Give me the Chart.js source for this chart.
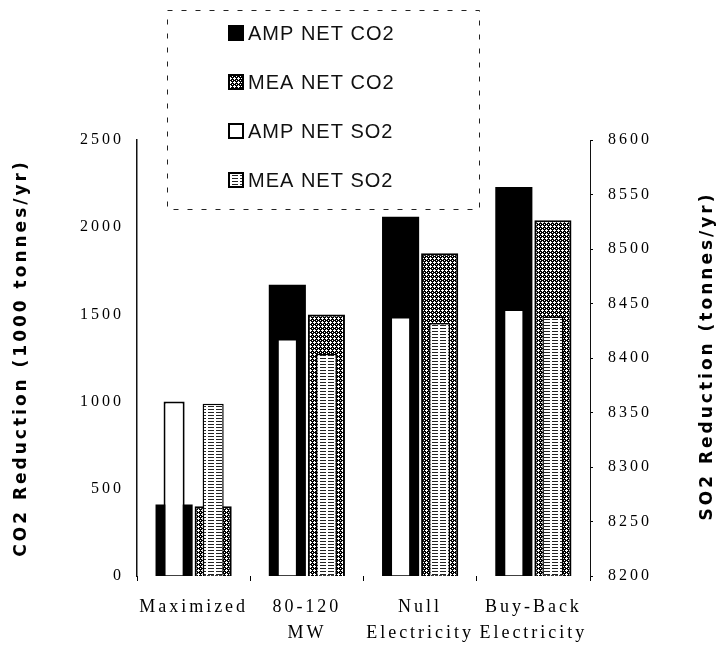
<!DOCTYPE html>
<html>
<head>
<meta charset="utf-8">
<script src="https://cdn.jsdelivr.net/npm/chart.js@4.4.1/dist/chart.umd.min.js"></script>
<style>
  html, body { margin: 0; padding: 0; background: #fff; }
  #wrap { width: 722px; height: 648px; position: relative; }
</style>
</head>
<body>
<div id="wrap"><canvas id="c" width="722" height="648"></canvas></div>
<script>
// Scenario categories (multi-line tick labels)
const categories = ['Maximized', ['80-120', 'MW'], ['Null', 'Electricity'], ['Buy-Back', 'Electricity']];

// CO2 reduction, 1000 tonnes/yr (left axis)
const ampNetCO2 = [410, 1670, 2060, 2230];
const meaNetCO2 = [400, 1500, 1850, 2040];

// SO2 reduction, tonnes/yr (right axis)
const ampNetSO2 = [8360, 8418, 8438, 8445];
const meaNetSO2 = [8358, 8404, 8432, 8438];

// Axis ranges: [min, max, step]
const co2Axis = [0, 2500, 500];
const so2Axis = [8200, 8600, 50];

const seriesNames = ['AMP NET CO2', 'MEA NET CO2', 'AMP NET SO2', 'MEA NET SO2'];
const leftTitle = 'CO2 Reduction (1000 tonnes/yr)';
const rightTitle = 'SO2 Reduction (tonnes/yr)';

const canvas = document.getElementById('c');
const mainCtx = canvas.getContext('2d');

function makePattern(w, h, paint) {
  const t = document.createElement('canvas');
  t.width = w; t.height = h;
  const g = t.getContext('2d');
  g.fillStyle = '#fff';
  g.fillRect(0, 0, w, h);
  paint(g);
  return mainCtx.createPattern(t, 'repeat');
}

// dark checker with small white diamonds for the MEA CO2 bars
const checker = makePattern(4, 4, g => {
  g.fillStyle = '#000';
  g.fillRect(0, 0, 4, 4);
  g.fillStyle = '#fff';
  g.fillRect(2, 1, 1, 1);
  g.fillRect(1, 2, 3, 1);
  g.fillRect(2, 3, 1, 1);
  g.fillRect(0, 0, 1, 1);
});
// horizontal dashes for the MEA SO2 bars
const ruled = makePattern(8, 3, g => {
  g.fillStyle = '#222';
  g.fillRect(0, 1, 6, 1);
});

const plainNumber = v => String(v);

const textSpacing = {
  id: 'textSpacing',
  beforeLayout(chart) { chart.ctx.letterSpacing = '3px'; },
  beforeDraw(chart) { chart.ctx.letterSpacing = '3px'; }
};

const legendAndTitle = {
  id: 'legendAndTitle',
  afterDraw(chart) {
    const ctx = chart.ctx;
    ctx.save();
    // legend panel
    const bx = 167, by = 10, bw = 312, bh = 199;
    ctx.fillStyle = '#fff';
    ctx.fillRect(bx, by, bw, bh);
    ctx.setLineDash([5, 9]);
    ctx.strokeStyle = '#222';
    ctx.lineWidth = 1;
    ctx.strokeRect(bx + 0.5, by + 0.5, bw, bh);
    ctx.setLineDash([]);
    ctx.letterSpacing = '1px';
    ctx.font = '20px "Liberation Sans", Arial, sans-serif';
    ctx.textBaseline = 'middle';
    ctx.textAlign = 'left';
    chart.data.datasets.forEach((ds, i) => {
      const cy = 33 + i * 49;
      const sx = 228, sy = cy - 8, s = 16;
      ctx.fillStyle = ds.backgroundColor;
      ctx.fillRect(sx, sy, s, s);
      if (ds.borderWidth) {
        ctx.strokeStyle = '#000';
        ctx.lineWidth = 2;
        ctx.strokeRect(sx + 1, sy + 1, s - 2, s - 2);
      }
      ctx.fillStyle = '#111';
      ctx.fillText(ds.label, 248, cy + 1);
    });
    // right axis title, reading bottom to top
    ctx.letterSpacing = '3px';
    ctx.font = 'bold 17px "DejaVu Sans", sans-serif';
    ctx.textAlign = 'center';
    ctx.translate(708, 356);
    ctx.rotate(-Math.PI / 2);
    ctx.fillStyle = '#000';
    ctx.fillText(rightTitle, 0, 0);
    ctx.restore();
  }
};

new Chart(canvas, {
  type: 'bar',
  data: {
    labels: categories,
    datasets: [
      { label: seriesNames[0], data: ampNetCO2, yAxisID: 'y', stack: 'amp', order: 2,
        backgroundColor: '#000', borderColor: '#000', borderWidth: 0, barPercentage: 0.95 },
      { label: seriesNames[1], data: meaNetCO2, yAxisID: 'y', stack: 'mea', order: 2,
        backgroundColor: checker, borderColor: '#000', borderWidth: 2, barPercentage: 0.95 },
      { label: seriesNames[2], data: ampNetSO2, yAxisID: 'y2', stack: 'amp', order: 1, base: so2Axis[0],
        backgroundColor: '#fff', borderColor: '#000', borderWidth: 2, barPercentage: 0.54 },
      { label: seriesNames[3], data: meaNetSO2, yAxisID: 'y2', stack: 'mea', order: 1, base: so2Axis[0],
        backgroundColor: ruled, borderColor: '#000', borderWidth: 1.5, barPercentage: 0.54 }
    ]
  },
  options: {
    responsive: false,
    animation: false,
    devicePixelRatio: 1,
    layout: { padding: { top: 140, left: 0, right: 0, bottom: 0 } },
    datasets: { bar: { categoryPercentage: 0.69 } },
    plugins: { legend: { display: false }, tooltip: { enabled: false } },
    scales: {
      x: {
        grid: { display: true, drawOnChartArea: false, drawTicks: true, tickLength: 5, color: '#000', offset: true },
        border: { display: false },
        ticks: {
          color: '#000', padding: 13, maxRotation: 0, autoSkip: false,
          font: { family: '"Liberation Serif", "Times New Roman", serif', size: 18, lineHeight: 1.45 }
        },
        afterFit(s) { s.height = 72; }
      },
      y: {
        position: 'left',
        min: co2Axis[0], max: co2Axis[1],
        ticks: {
          stepSize: co2Axis[2], color: '#000', padding: 13, callback: plainNumber,
          font: { family: '"Liberation Serif", "Times New Roman", serif', size: 16 }
        },
        grid: { display: false, drawTicks: false },
        border: { display: true, color: '#111', width: 1.5, dash: [14, 3] },
        title: {
          display: true, text: leftTitle, color: '#000', padding: { top: 11, bottom: 0 },
          font: { family: '"DejaVu Sans", sans-serif', size: 17, weight: 'bold' }
        },
        afterFit(s) { s.width = 137; }
      },
      y2: {
        position: 'right',
        min: so2Axis[0], max: so2Axis[1],
        ticks: {
          stepSize: so2Axis[2], color: '#000', padding: 15, callback: plainNumber,
          font: { family: '"Liberation Serif", "Times New Roman", serif', size: 16 }
        },
        grid: { display: true, drawOnChartArea: false, drawTicks: true, tickLength: 3, color: '#000' },
        border: { display: true, color: '#111', width: 1, dash: [7, 4] },
        afterFit(s) { s.width = 132; }
      }
    }
  },
  plugins: [textSpacing, legendAndTitle]
});
</script>
</body>
</html>
